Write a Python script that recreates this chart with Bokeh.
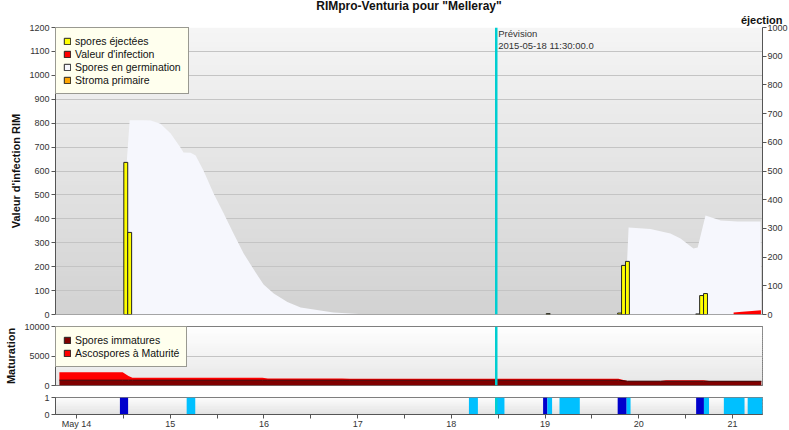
import numpy as np
from bokeh.plotting import figure
from bokeh.models import Range1d, LinearAxis, FixedTicker, Span, Label, Legend, LegendItem, Title
from bokeh.layouts import column
from bokeh.embed import file_html
from bokeh.resources import INLINE

FONT = "Liberation Sans"

# ---------------- texts ----------------
title_text = 'RIMpro-Venturia pour "Melleray"'
left_label = "Valeur d'infection RIM"
right_label = "éjection"
mid_label = "Maturation"
forecast_title = "Prévision"
forecast_stamp = " 2015-05-18 11:30:00.0"
top_legend_names = ["spores éjectées", "Valeur d'infection", "Spores en germination", "Stroma primaire"]
mid_legend_names = ["Spores immatures", "Ascospores à Maturité"]

# ---------------- axes / ticks (x = hours since 2015-05-14 00:00) ----------------
x_start, x_end = -5.4, 175.7
day_ticks = [0, 24, 48, 72, 96, 120, 144, 168]
day_labels = ["May 14", "15", "16", "17", "18", "19", "20", "21"]
half_ticks = [12, 36, 60, 84, 108, 132, 156]
rim_ticks = [0, 100, 200, 300, 400, 500, 600, 700, 800, 900, 1000, 1100, 1200]
ej_ticks = [0, 100, 200, 300, 400, 500, 600, 700, 800, 900, 1000]
mat_ticks = [0, 5000, 10000]
wet_ticks = [0, 1]
forecast_hour = 107.5

# ---------------- data ----------------
# spores éjectées (right axis, éjection)
eject_hours = [12.6, 13.6, 120.8, 139.1, 140.1, 141.1, 159.1, 160.1, 161.1]
eject_values = [530, 286, 3, 5, 171, 185, 2, 66, 73]

# Spores en germination (left axis)
germ_hours = [11.9, 12.9, 13.6, 17.2, 19.0, 21.5, 24.1, 26.6, 27.4, 29.2, 30.5, 32.5, 35.1,
              37.7, 40.2, 42.8, 45.3, 47.9, 50.5, 54.0, 57.4, 65.8, 74.5,
              140.4, 141.4, 147.0, 152.1, 154.7, 158.0, 159.1, 161.1, 165.0, 169.3, 175.2, 175.4]
germ_values = [0, 650, 812, 812, 811, 798, 757, 698, 677, 676, 665, 602, 506,
               422, 339, 255, 190, 125, 88, 52, 29, 8, 0,
               0, 364, 357, 339, 318, 276, 280, 414, 393, 389, 389, 0]

# Valeur d'infection (left axis)
inf_hours = [168.3, 170.5, 173.0, 175.3]
inf_values = [8, 11, 15, 18]

# Maturation
mat_hours = [-4.4, 11.8, 13.3, 14.3, 47.6, 49.0, 68.0, 70.0, 138.8, 141.1, 149.6, 151.0, 160.6, 162.0, 175.4]
immature_values = [900, 900, 900, 900, 900, 900, 900, 900, 900, 730, 730, 730, 730, 720, 720]
mature_values = [1350, 1350, 700, 400, 400, 300, 300, 250, 250, 30, 30, 170, 170, 30, 30]

# leaf wetness / rain bands (bottom strip)
band_start = [11.1, 28.2, 100.5, 107.6, 119.5, 120.6, 123.7, 138.6, 140.9, 158.7, 160.7, 165.8, 171.9]
band_end = [13.2, 30.4, 102.8, 109.6, 120.6, 121.8, 128.9, 140.9, 141.9, 160.7, 162.0, 171.1, 175.7]
band_kind = ["dark", "light", "light", "light", "dark", "light", "light", "dark", "light", "dark", "light", "light", "light"]

# ---------------- styles ----------------
C_YELLOW = "#ffff00"
C_RED = "#ff0000"
C_GERM = "#f6f7fd"
C_ORANGE = "#ffa500"
C_MAROON = "#800000"
C_DARKBLUE = "#0000cc"
C_LIGHTBLUE = "#00c0ff"
C_FORECAST = "#00ced1"
AXIS_C = "#555555"
TEXT_C = "#333333"
FW = 707
LEFT = 55
NAN = float("nan")


def gradient(p, y0, y1, c_bottom, c_top, n):
    edges = np.linspace(y0, y1, n + 1)
    h = (y1 - y0) / n
    cols = []
    for i in range(n):
        t = (i + 0.5) / n
        rgb = tuple(int(round(b + (tp - b) * t)) for b, tp in zip(c_bottom, c_top))
        cols.append("#%02x%02x%02x" % rgb)
    tops = list(edges[1:] + h * 0.5)
    tops[-1] = y1
    p.quad(left=x_start, right=x_end, bottom=list(edges[:-1]), top=tops,
           fill_color=cols, line_color=None, level="image")


def style_yaxis(ax, ticks):
    ax.ticker = FixedTicker(ticks=ticks)
    ax.axis_line_color = AXIS_C
    ax.major_tick_line_color = AXIS_C
    ax.major_tick_out = 4
    ax.major_tick_in = 0
    ax.minor_tick_line_color = None
    ax.major_label_text_font = FONT
    ax.major_label_text_font_size = "9px"
    ax.major_label_text_color = TEXT_C
    ax.major_label_standoff = 2
    ax.axis_label_text_font = FONT
    ax.axis_label_text_font_size = "11px"
    ax.axis_label_text_font_style = "bold"
    ax.axis_label_text_color = "#111111"
    ax.axis_label_standoff = 4


def make_legend(p, names, colors):
    items = []
    for name, col in zip(names, colors):
        r = p.quad(left=[NAN], right=[NAN], bottom=[NAN], top=[NAN], fill_color=col, line_color="#222222")
        items.append(LegendItem(label=name, renderers=[r]))
    leg = Legend(items=items, location="top_left", margin=0, padding=7, spacing=1,
                 glyph_width=8, glyph_height=8, label_height=10, label_standoff=4,
                 label_text_font=FONT, label_text_font_size="10.5px", label_text_color="#111111",
                 background_fill_color="#ffffee", background_fill_alpha=1,
                 border_line_color="#333333", border_line_width=1)
    p.add_layout(leg, "center")


x_range = Range1d(x_start, x_end)

# ================= top plot =================
p1 = figure(frame_width=FW, frame_height=287, x_range=x_range, y_range=Range1d(0, 1200),
            output_backend="svg", toolbar_location=None, tools="",
            min_border_left=LEFT, min_border_top=27, min_border_bottom=6, min_border_right=2,
            title=title_text)
p1.title.align = "center"
p1.title.offset = -17
p1.title.standoff = -7
p1.title.text_font = FONT
p1.title.text_font_size = "12px"
p1.title.text_font_style = "bold"
p1.title.text_color = "#111111"
p1.add_layout(Title(text=right_label, align="right", offset=-20, standoff=4, text_font=FONT,
                    text_font_size="11px", text_font_style="bold", text_color="#111111"), "above")

p1.extra_y_ranges = {"ej": Range1d(0, 1000)}
p1.outline_line_color = None
p1.background_fill_color = "white"
p1.border_fill_color = "white"
p1.xaxis.visible = False
p1.xgrid.visible = False
p1.ygrid.ticker = FixedTicker(ticks=rim_ticks)
p1.ygrid.grid_line_color = "#c4c4c4"
p1.ygrid.level = "underlay"
style_yaxis(p1.yaxis[0], rim_ticks)
p1.yaxis[0].axis_label = left_label
rax = LinearAxis(y_range_name="ej")
style_yaxis(rax, ej_ticks)
rax.major_label_standoff = 1
p1.add_layout(rax, "right")

gradient(p1, 0, 1200, (0xd2, 0xd2, 0xd2), (0xf5, 0xf5, 0xf5), 60)

p1.varea(x=germ_hours, y1=0, y2=germ_values, fill_color=C_GERM)
p1.varea(x=inf_hours, y1=0, y2=inf_values, fill_color=C_RED)
p1.vbar(x=eject_hours, width=1.0, top=eject_values, bottom=0, y_range_name="ej",
        fill_color=C_YELLOW, line_color="#222222", line_width=1)
p1.add_layout(Span(location=0, dimension="width", line_color=AXIS_C, line_width=1.2))
p1.add_layout(Span(location=forecast_hour, dimension="height", line_color=C_FORECAST, line_width=2.5))
make_legend(p1, top_legend_names, [C_YELLOW, C_RED, C_GERM, C_ORANGE])

p1.add_layout(Label(x=forecast_hour, y=1154, x_offset=2, text=forecast_title, text_font=FONT,
                    text_font_size="9.5px", text_color=TEXT_C, text_baseline="bottom"))
p1.add_layout(Label(x=forecast_hour, y=1100, x_offset=2, text=forecast_stamp, text_font=FONT,
                    text_font_size="9.5px", text_color=TEXT_C, text_baseline="bottom"))

# ================= middle plot =================
p2 = figure(frame_width=FW, frame_height=59, x_range=x_range, y_range=Range1d(0, 10000),
            output_backend="svg", toolbar_location=None, tools="",
            min_border_left=LEFT, min_border_top=6, min_border_bottom=6, min_border_right=2)
p2.outline_line_color = AXIS_C
p2.border_fill_color = "white"
p2.xaxis.visible = False
p2.xgrid.visible = False
p2.ygrid.ticker = FixedTicker(ticks=[5000])
p2.ygrid.grid_line_color = "#c4c4c4"
style_yaxis(p2.yaxis[0], mat_ticks)
p2.yaxis[0].axis_label = mid_label
gradient(p2, 0, 10000, (0xe6, 0xe6, 0xe6), (0xff, 0xff, 0xff), 30)

total_values = [a + b for a, b in zip(immature_values, mature_values)]
p2.varea(x=mat_hours, y1=0, y2=immature_values, fill_color=C_MAROON)
p2.varea(x=mat_hours, y1=immature_values, y2=total_values, fill_color=C_RED)
p2.line(x=mat_hours, y=immature_values, line_color="#300000", line_width=1)
p2.add_layout(Span(location=forecast_hour, dimension="height", line_color=C_FORECAST, line_width=2.5))
make_legend(p2, mid_legend_names, [C_MAROON, C_RED])

# ================= bottom strip =================
p3 = figure(frame_width=FW, frame_height=17, x_range=x_range, y_range=Range1d(0, 1),
            output_backend="svg", toolbar_location=None, tools="",
            min_border_left=LEFT, min_border_top=6, min_border_bottom=4, min_border_right=2)
p3.outline_line_color = AXIS_C
p3.border_fill_color = "white"
p3.xgrid.visible = False
p3.ygrid.visible = False
style_yaxis(p3.yaxis[0], wet_ticks)
gradient(p3, 0, 1, (0xe2, 0xe2, 0xe2), (0xfd, 0xfd, 0xfd), 12)
band_colors = [C_DARKBLUE if k == "dark" else C_LIGHTBLUE for k in band_kind]
p3.quad(left=band_start, right=band_end, bottom=0, top=1, fill_color=band_colors, line_color=None)
p3.add_layout(Span(location=forecast_hour, dimension="height", line_color=C_FORECAST, line_width=2.5))

xa = p3.xaxis[0]
xa.ticker = FixedTicker(ticks=day_ticks, minor_ticks=half_ticks)
xa.major_label_overrides = {t: lab for t, lab in zip(day_ticks, day_labels)}
xa.axis_line_color = AXIS_C
xa.major_tick_line_color = AXIS_C
xa.minor_tick_line_color = AXIS_C
xa.major_tick_out = 4
xa.major_tick_in = 0
xa.minor_tick_out = 4
xa.minor_tick_in = 0
xa.major_label_text_font = FONT
xa.major_label_text_font_size = "9px"
xa.major_label_text_color = TEXT_C
xa.major_label_standoff = 0

layout = column(p1, p2, p3, spacing=0)
open("out.html", "w").write(file_html(layout, INLINE))
